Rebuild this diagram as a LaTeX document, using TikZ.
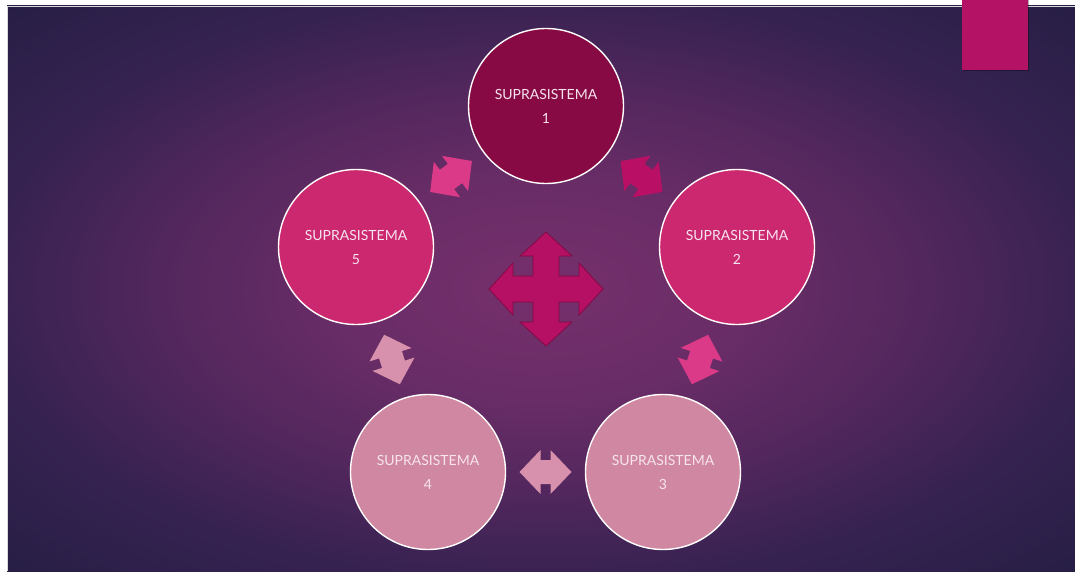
\documentclass[tikz,border=0pt]{standalone}
\usepackage{fontspec}
\newfontfamily\ringfont{Lato}
\usetikzlibrary{calc}
\definecolor{glowin}{RGB}{118,48,108}
\definecolor{glowa}{RGB}{104,44,102}
\definecolor{glowb}{RGB}{82,39,93}
\definecolor{glowout}{RGB}{54,34,81}
\definecolor{glowcorner}{RGB}{38,30,68}
\definecolor{sysdark}{RGB}{135,10,68}
\definecolor{sysmid}{RGB}{203,40,112}
\definecolor{syslight}{RGB}{208,135,162}
\definecolor{ringtext}{RGB}{246,228,238}
\definecolor{linkdark}{RGB}{185,15,100}
\definecolor{linkmid}{RGB}{218,58,135}
\definecolor{linklight}{RGB}{215,145,172}
\definecolor{hubfill}{RGB}{182,16,100}
\definecolor{hubline}{RGB}{130,10,68}
\definecolor{tabpink}{RGB}{180,18,100}
\pgfdeclareradialshading{slidebg}{\pgfpoint{0bp}{0bp}}{color(0bp)=(glowin); color(10bp)=(glowa); color(18bp)=(glowb); color(26bp)=(glowout); color(36bp)=(glowcorner); color(50bp)=(glowcorner)}

\begin{document}
\begin{tikzpicture}[x=1pt,y=1pt,
    ring/.style={circle,draw=white,line width=1.4pt,minimum size=155pt,align=center,
      text=ringtext,font=\ringfont\fontsize{14}{24}\selectfont},
    twoway/.pic={\path[pic actions] (-26,0) -- (-5,22) -- (-5,12) -- (5,12) -- (5,22)
      -- (26,0) -- (5,-22) -- (5,-12) -- (-5,-12) -- (-5,-22) -- cycle;}
  ]
    \useasboundingbox (0,0) rectangle (1075,571);
    \fill[white] (0,0) rectangle (1075,571);
    \shade[shading=slidebg] (7,0) rectangle (1075,565);
    \draw[black!15,line width=0.5pt] (7,0) -- (7,565) -- (1075,565);
    % corner tab
    \fill[black,opacity=0.3] (963,500) rectangle (1029,571);
    \fill[tabpink] (962,501) rectangle (1028,571);

    \node[ring,fill=sysdark] (s1) at (546,465) {SUPRASISTEMA\\1};
    \node[ring,fill=sysmid] (s2) at (737,324) {SUPRASISTEMA\\2};
    \node[ring,fill=syslight] (s3) at (663,99) {SUPRASISTEMA\\3};
    \node[ring,fill=syslight] (s4) at (428,99) {SUPRASISTEMA\\4};
    \node[ring,fill=sysmid] (s5) at (356,324) {SUPRASISTEMA\\5};

    \pic[fill=linkmid,rotate=36.6] at ($(s5)!0.5!(s1)$) {twoway};
    \pic[fill=linkdark,rotate=-36.4] at ($(s1)!0.5!(s2)$) {twoway};
    \pic[fill=linkmid,rotate=71.8] at ($(s2)!0.5!(s3)$) {twoway};
    \pic[fill=linklight] at ($(s3)!0.5!(s4)$) {twoway};
    \pic[fill=linklight,rotate=107.7] at ($(s4)!0.5!(s5)$) {twoway};

    % four-way arrow in the middle
    \coordinate (hub) at (546,282);
    \draw[fill=hubfill,draw=hubline,line width=0.8pt,shift={(hub)}]
      (0,57) -- (26,33) -- (13,33) -- (13,13) -- (33,13) -- (33,26) -- (57,0)
      -- (33,-26) -- (33,-13) -- (13,-13) -- (13,-33) -- (26,-33) -- (0,-57)
      -- (-26,-33) -- (-13,-33) -- (-13,-13) -- (-33,-13) -- (-33,-26) -- (-57,0)
      -- (-33,26) -- (-33,13) -- (-13,13) -- (-13,33) -- (-26,33) -- cycle;
  \end{tikzpicture}
\end{document}
